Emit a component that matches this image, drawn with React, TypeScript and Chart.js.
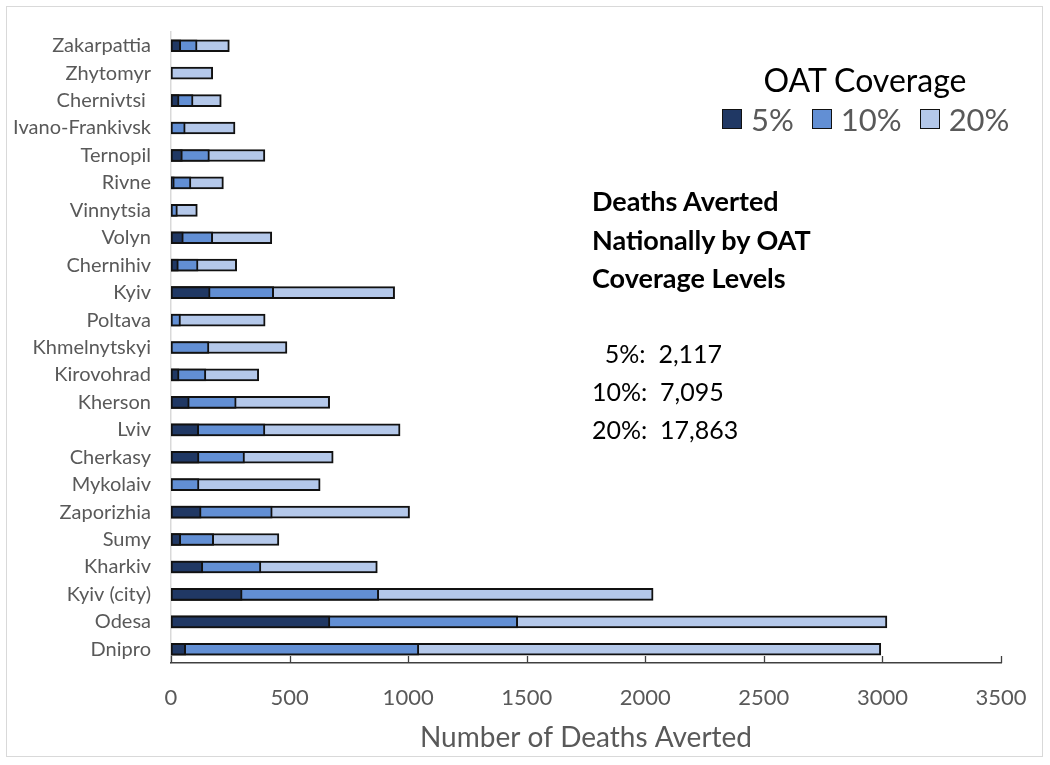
import React, { useEffect, useRef } from "react";
import { Chart, registerables } from "chart.js";

Chart.register(...registerables);

const regions = [
  "Zakarpattia", "Zhytomyr", "Chernivtsi ", "Ivano-Frankivsk", "Ternopil", "Rivne",
  "Vinnytsia", "Volyn", "Chernihiv", "Kyiv", "Poltava", "Khmelnytskyi",
  "Kirovohrad", "Kherson", "Lviv", "Cherkasy", "Mykolaiv", "Zaporizhia",
  "Sumy", "Kharkiv", "Kyiv (city)", "Odesa", "Dnipro",
];

const cov5 = [41, 0, 34, 0, 48, 14, 0, 52, 31, 165, 0, 0, 34, 77, 117, 118, 0, 127, 41, 134, 300, 670, 62];
const cov10 = [110, 0, 93, 60, 162, 84, 27, 176, 114, 433, 40, 160, 147, 275, 396, 310, 118, 427, 180, 379, 876, 1462, 1045];
const cov20 = [246, 176, 212, 270, 396, 221, 111, 425, 277, 943, 397, 489, 370, 669, 966, 684, 629, 1006, 455, 870, 2033, 3019, 2993];

const seriesLabels = ["5%", "10%", "20%"];
const seriesColors = ["#203864", "#628fd4", "#b4c8ea"];
const xTicks = [0, 500, 1000, 1500, 2000, 2500, 3000, 3500];
const totals = ["  5%:  2,117", "10%:  7,095", "20%:  17,863"];

const FONT = "Lato, 'Open Sans', sans-serif";

export default function App() {
  const ref = useRef<HTMLCanvasElement | null>(null);

  useEffect(() => {
    if (!ref.current) return;
    const tickPlugin = {
      id: "innerTicks",
      afterDatasetsDraw(chart: any) {
        const xs = chart.scales.x;
        const ctx = chart.ctx;
        const bottom = chart.chartArea.bottom;
        ctx.save();
        ctx.strokeStyle = "#404040";
        ctx.lineWidth = 1.3;
        xTicks.forEach((v) => {
          const px = Math.round(xs.getPixelForValue(v)) + 0.5;
          ctx.beginPath();
          ctx.moveTo(px, bottom);
          ctx.lineTo(px, bottom - 7);
          ctx.stroke();
        });
        ctx.restore();
      },
    };
    const chart = new Chart(ref.current, {
      type: "bar",
      data: {
        labels: regions,
        datasets: [cov5, cov10, cov20].map((d, i) => ({
          label: seriesLabels[i],
          data: d,
          backgroundColor: seriesColors[i],
          borderColor: "#111111",
          borderWidth: 2,
          borderSkipped: false,
          barThickness: 12,
        })),
      },
      options: {
        indexAxis: "y",
        animation: false,
        responsive: false,
        maintainAspectRatio: false,
        layout: { padding: { top: 30, right: 49, left: 0, bottom: 0 } },
        plugins: {
          legend: { display: false },
          tooltip: { enabled: false },
        },
        scales: {
          y: {
            stacked: true,
            grid: { display: false, drawTicks: false },
            border: { display: true, color: "#d9d9d9", width: 1.5 },
            ticks: {
              color: "#595959",
              font: { family: FONT, size: 20 },
              padding: 20,
              autoSkip: false,
            },
            afterFit: (s: any) => {
              s.width = 171;
            },
          },
          x: {
            stacked: false,
            min: 0,
            max: 3500,
            grid: { display: false, drawTicks: false },
            border: { display: true, color: "#404040", width: 1.5 },
            afterBuildTicks: (s: any) => {
              s.ticks = xTicks.map((v) => ({ value: v }));
            },
            ticks: {
              color: "#595959",
              font: { family: FONT, size: 22 },
              padding: 22,
              maxRotation: 0,
              callback: (v: any) => String(v),
            },
            title: {
              display: true,
              text: "Number of Deaths Averted",
              color: "#595959",
              font: { family: FONT, size: 28 },
              padding: { top: 4, bottom: 10 },
            },
            afterFit: (s: any) => {
              s.height = 102;
            },
          },
        },
      },
      plugins: [tickPlugin],
    });
    return () => chart.destroy();
  }, []);

  return (
    <div style={{ position: "absolute", left: 0, top: 0, width: 1050, height: 765, background: "#fff", fontFamily: FONT }}>
      <div
        style={{
          position: "absolute", left: 6, top: 6, width: 1037, height: 751,
          border: "1.5px solid #d9d9d9", boxSizing: "border-box",
        }}
      />
      <canvas ref={ref} width={1050} height={765} style={{ position: "absolute", left: 0, top: 0, display: "block" }} />
      <div style={{ position: "absolute", left: 700, width: 330, top: 60, textAlign: "center", fontSize: 32, color: "#000", lineHeight: "40px" }}>
        OAT Coverage
      </div>
      <div style={{ position: "absolute", left: 722, top: 100, height: 38, display: "flex", alignItems: "center", fontSize: 31, color: "#595959" }}>
        {seriesLabels.map((l, i) => (
          <div key={l} style={{ display: "flex", alignItems: "center", marginRight: i < 2 ? 18 : 0 }}>
            <span style={{ display: "inline-block", width: 20, height: 20, background: seriesColors[i], border: "1.5px solid #111", boxSizing: "border-box", marginRight: 9 }} />
            <span>{l}</span>
          </div>
        ))}
      </div>
      <div style={{ position: "absolute", left: 592, top: 182, fontSize: 27, fontWeight: 700, color: "#000", lineHeight: "38.5px", whiteSpace: "pre" }}>
        {"Deaths Averted\nNationally by OAT\nCoverage Levels"}
      </div>
      <div style={{ position: "absolute", left: 592, top: 334, fontSize: 25, color: "#000", lineHeight: "38px", whiteSpace: "pre" }}>
        {totals.join("\n")}
      </div>
    </div>
  );
}
